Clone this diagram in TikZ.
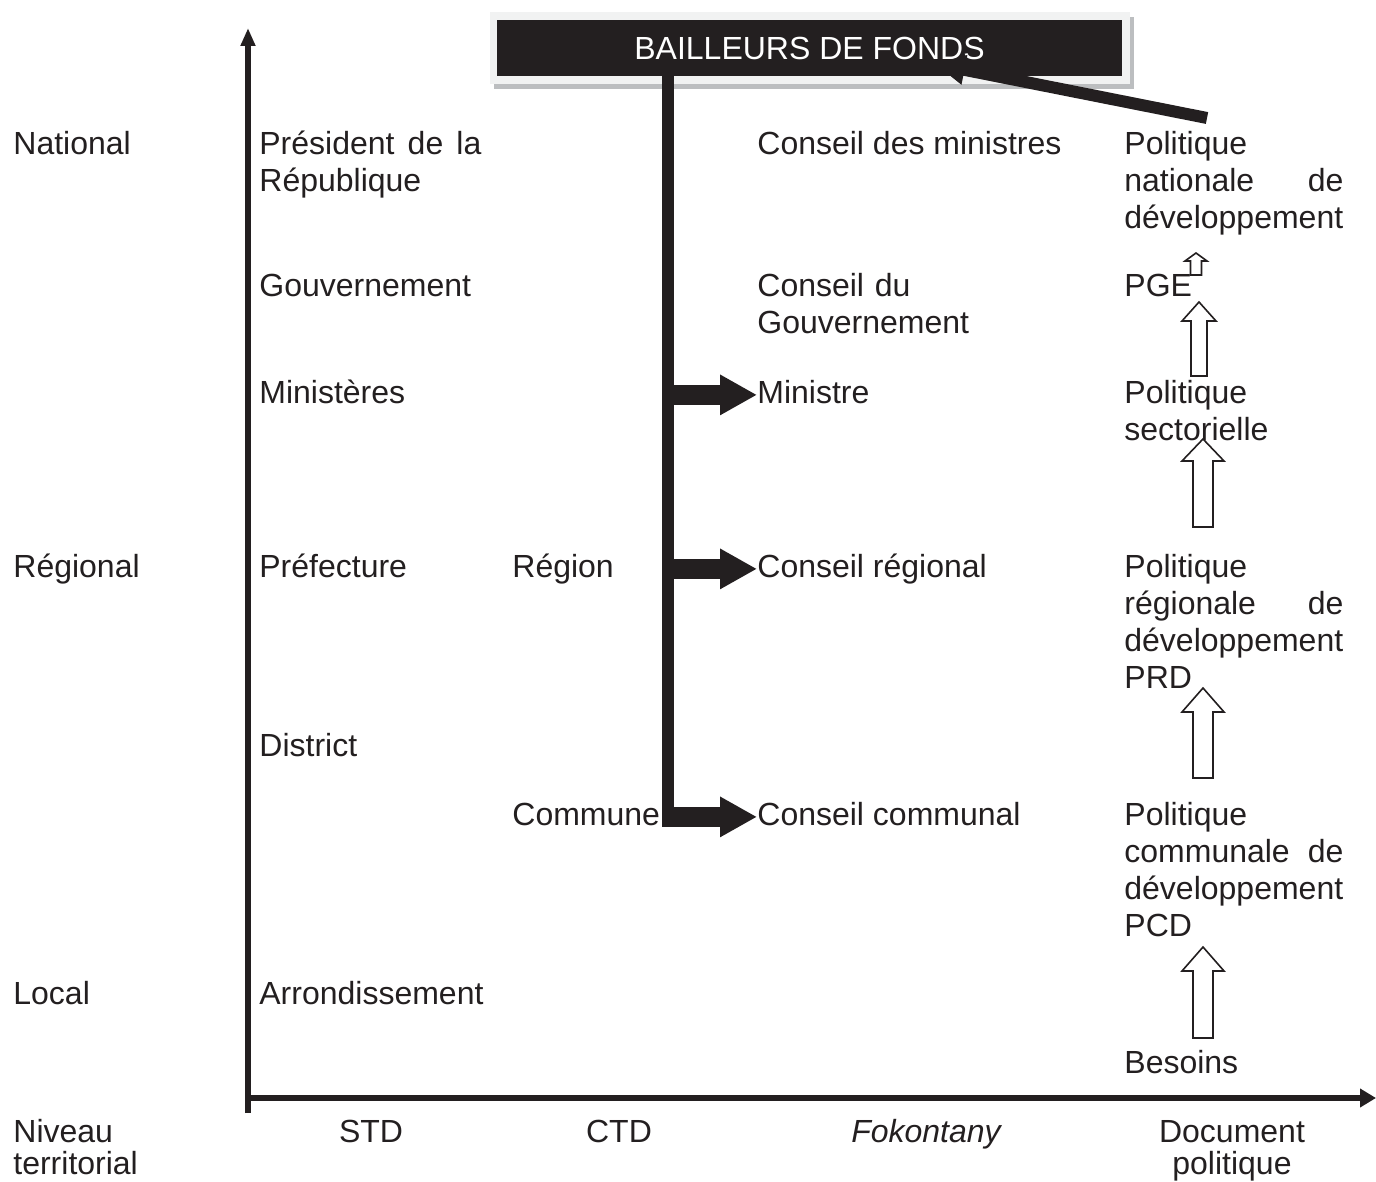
\documentclass[tikz,border=0pt]{standalone}
\usepackage{fontspec}
\setmainfont{Liberation Sans}
\usetikzlibrary{arrows.meta}
\definecolor{ink}{HTML}{231F20}
\definecolor{framegray}{HTML}{F1F2F2}
\definecolor{shadegray}{HTML}{BCBEC0}
\newcommand{\txtsize}{\fontsize{16pt}{18.5pt}\selectfont}
\newcommand{\axsize}{\fontsize{16pt}{16pt}\selectfont}

\begin{document}
\begin{tikzpicture}
  [x=0.5pt,y=-0.5pt,
   every node/.style={inner sep=0pt, text=ink, font=\txtsize},
   lbl/.style={anchor=base west, text height=11.5pt, text depth=3.4pt},
   para/.style={anchor=base west, text width=#1, align=left},
   axlbl/.style={anchor=base, font=\axsize},
   axis/.style={draw=ink, line width=2.75pt},
   spine/.style={draw=ink, line width=6pt},
   feed/.style={draw=ink, line width=10pt, -{Triangle[length=18.5pt,width=19pt]}},
   hollow/.style={draw=ink, line width=0.8pt, fill=white, line join=miter}]
  \useasboundingbox (0,0) rectangle (1376,1182);

  % levels
  \node[lbl] (nat) at (13,155) {National};
  \node[lbl] (reg) at (13,577) {Régional};
  \node[lbl] (loc) at (13,1004) {Local};

  % STD column
  \node[para=111pt] (pres) at (259,155) {Président \hfill de \hfill la\\République};
  \node[lbl] (gouv) at (259,297) {Gouvernement};
  \node[lbl] (mins) at (259,403) {Ministères};
  \node[lbl] (pref) at (259,577) {Préfecture};
  \node[lbl] (dist) at (259,756) {District};
  \node[lbl] (arr) at (259,1004) {Arrondissement};

  % CTD column
  \node[lbl] (region) at (512,577) {Région};
  \node[lbl] (commune) at (512,825) {Commune};

  % Fokontany column
  \node[lbl] (cmin) at (757,155) {Conseil des ministres};
  \node[para=150pt] (cgouv) at (757,297) {Conseil du\\Gouvernement};
  \node[lbl] (mini) at (757,403) {Ministre};
  \node[lbl] (creg) at (757,577) {Conseil régional};
  \node[lbl] (ccom) at (757,825) {Conseil communal};

  % document column
  \node[para=109.5pt] (natpol) at (1124,155) {Politique\\nationale \hfill de\\développement};
  \node[lbl] (pge) at (1124,297) {PGE};
  \node[para=109.5pt] (secpol) at (1124,403) {Politique\\sectorielle};
  \node[para=109.5pt] (regpol) at (1124,577) {Politique\\régionale \hfill de\\développement\\PRD};
  \node[para=109.5pt] (compol) at (1124,825) {Politique\\communale \hfill de\\développement\\PCD};
  \node[lbl] (besoins) at (1124,1073) {Besoins};

  % axis labels
  \node[para=80pt, font=\axsize] (niveau) at (13,1142) {Niveau\\territorial};
  \node[axlbl] (std) at (371,1142) {STD};
  \node[axlbl] (ctd) at (619,1142) {CTD};
  \node[axlbl] (foko) at (926,1142) {\itshape Fokontany};
  \node[anchor=base, text width=80pt, align=center, font=\axsize] (docpol) at (1232,1142) {Document\\politique};

  % axes
  \coordinate (yfoot) at (248,1113);
  \coordinate (ytip) at (248,28);
  \coordinate (xfoot) at (246,1098);
  \coordinate (xtip) at (1376,1098);
  \draw[axis, -{Triangle[length=9pt,width=7pt]}] (yfoot) -- (ytip);
  \draw[axis, -{Triangle[length=8pt,width=9pt]}] (xfoot) -- (xtip);

  % donor box
  \fill[shadegray] (494,17) rectangle (1134,89);
  \fill[framegray] (490,12) rectangle (1130,84);
  \node[fill=ink, text=white, minimum width=312.5pt, minimum height=28pt] (donor) at (809.5,48) {BAILLEURS DE FONDS};

  \coordinate (bartop) at (668,70);
  \coordinate (barend) at (668,827);
  \draw[spine] (bartop) -- (barend);
  \foreach \n in {mini, creg, ccom}
    \draw[feed] (bartop |- \n.west) -- (\n.west);

  \coordinate (nattop) at (1207,118);
  \coordinate (donorin) at (935,64);
  \draw[spine, -{Triangle[length=15pt,width=14pt]}] (nattop) -- (donorin);

  % upward hollow arrows
  \foreach \x/\yb/\yh/\yt/\hw/\sw in {1196/275/261/253/11/5.5, 1199/376/321/302/17/8,
      1203/527/461/439/21/10, 1203/778/712/688/21/10, 1203/1038/971/947/21/10}
    \draw[hollow] (\x-\sw,\yb) -- (\x-\sw,\yh) -- (\x-\hw,\yh) -- (\x,\yt)
      -- (\x+\hw,\yh) -- (\x+\sw,\yh) -- (\x+\sw,\yb) -- cycle;
\end{tikzpicture}
\end{document}
